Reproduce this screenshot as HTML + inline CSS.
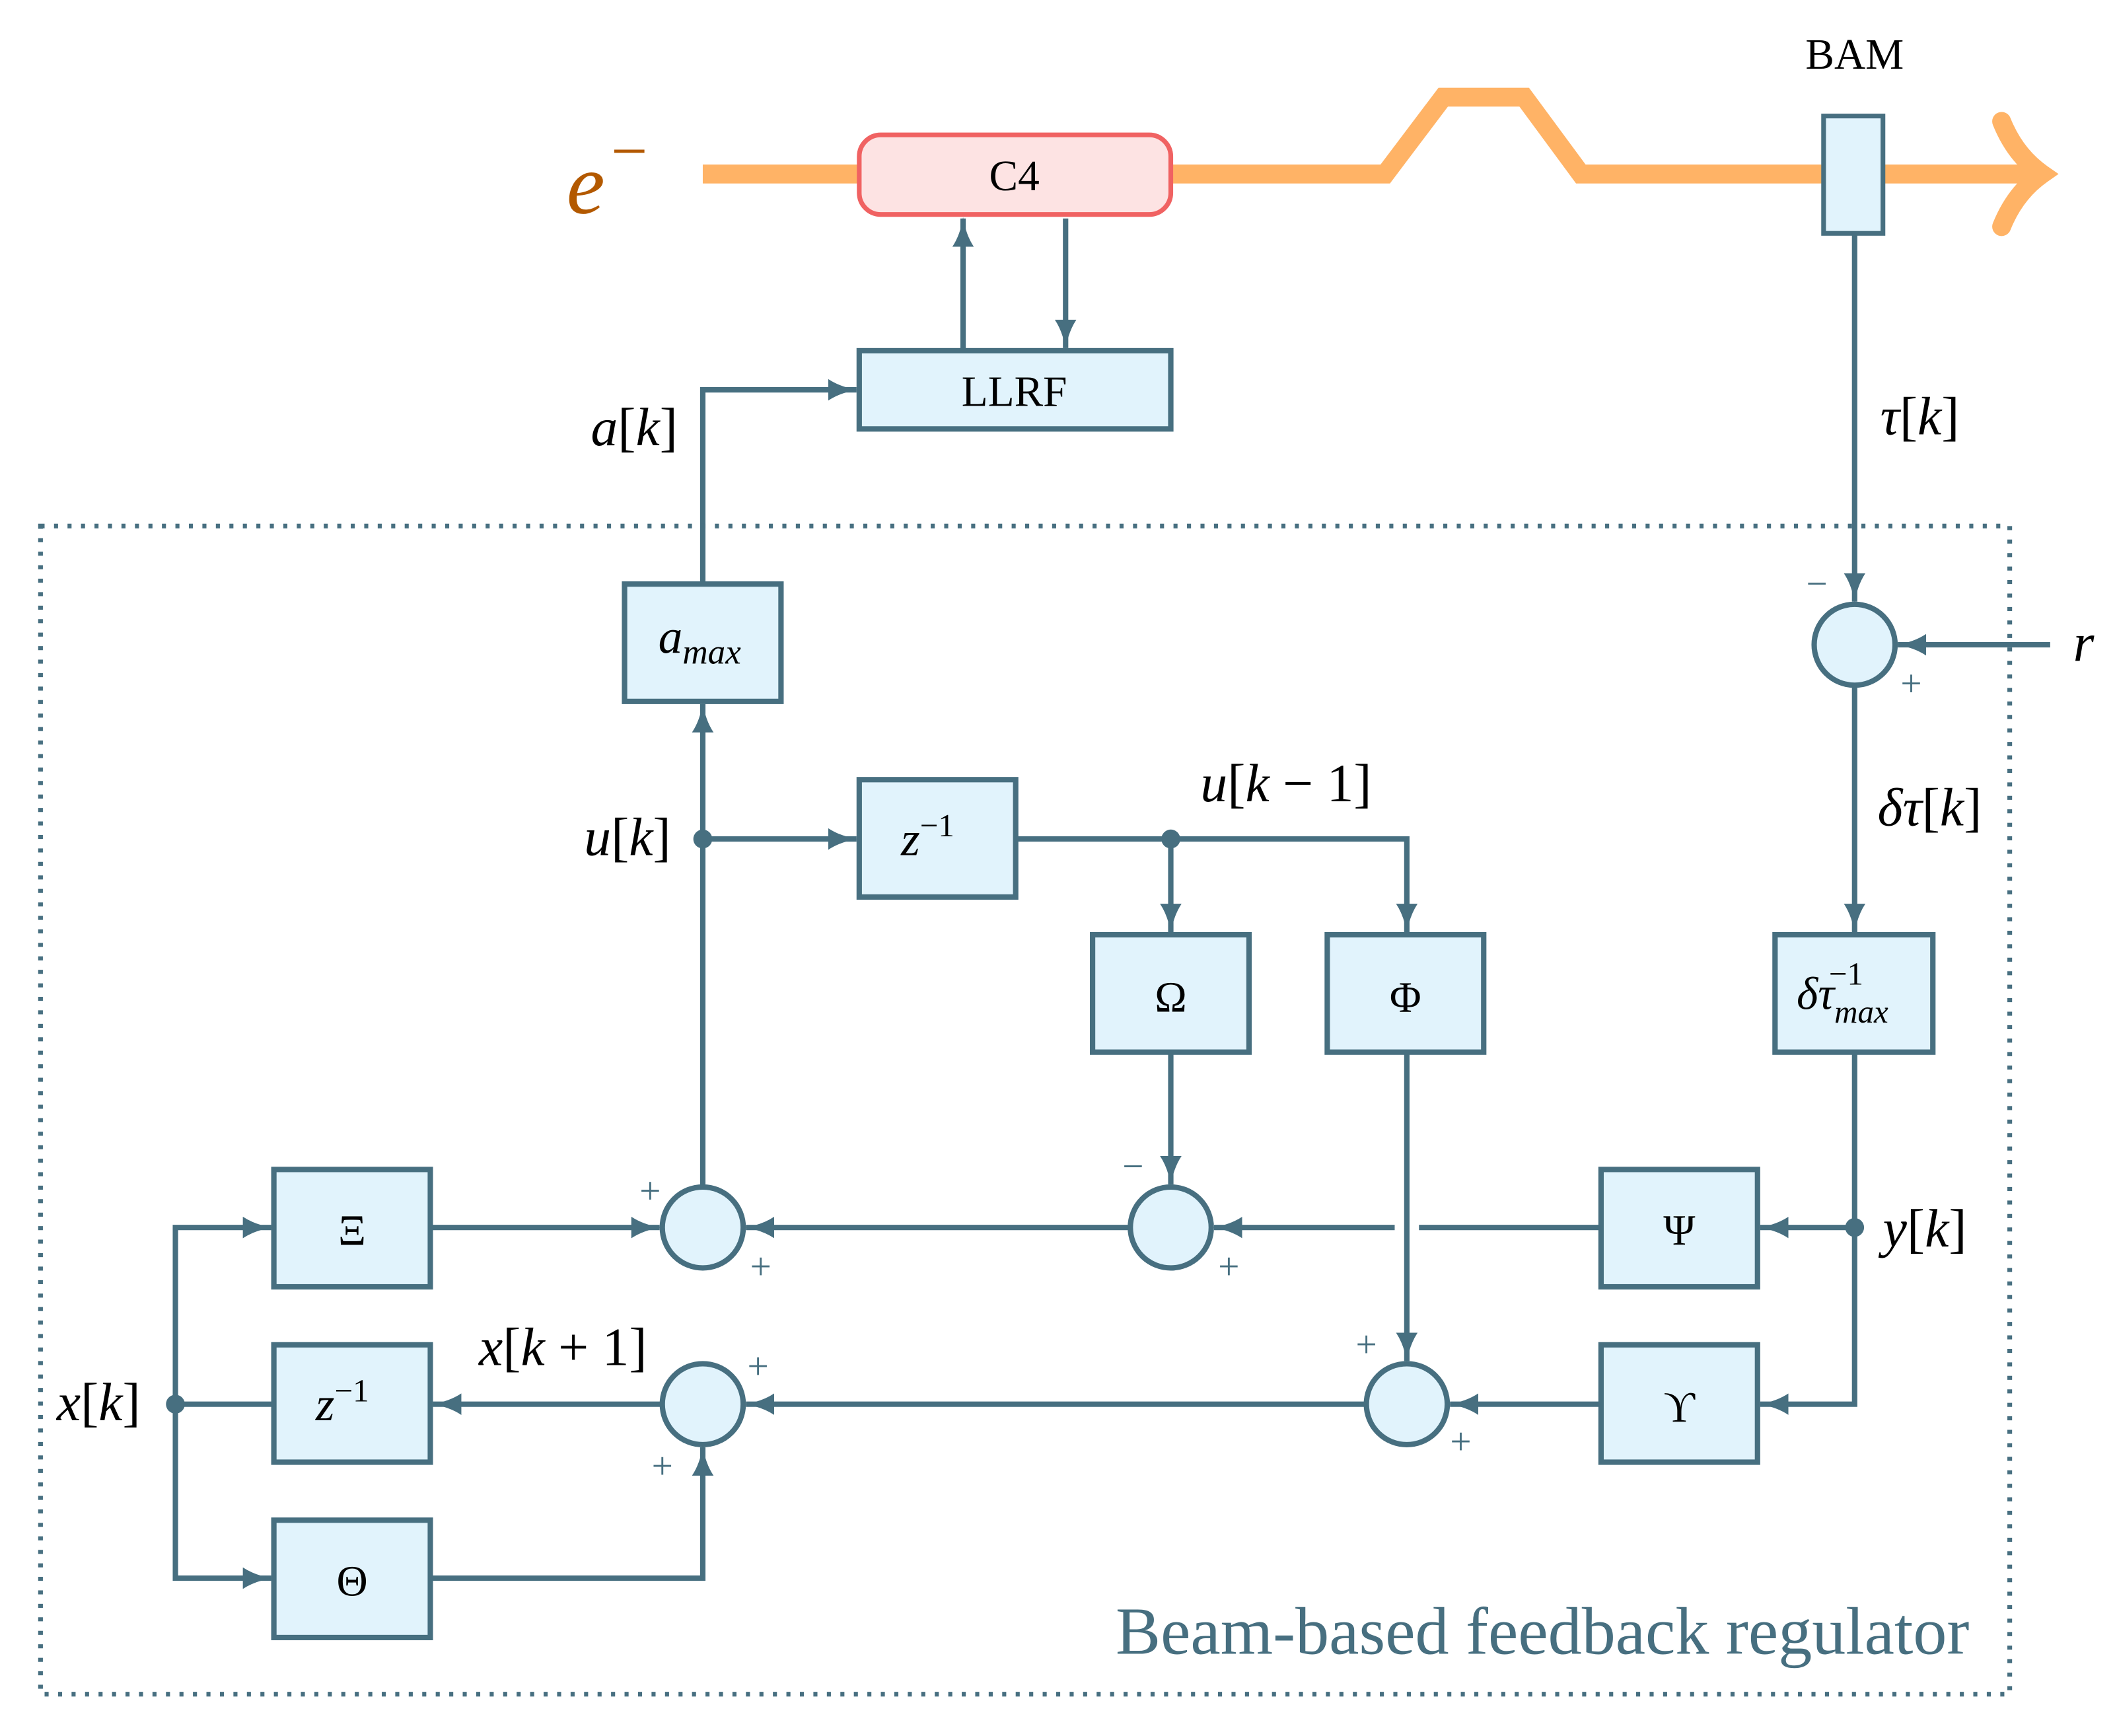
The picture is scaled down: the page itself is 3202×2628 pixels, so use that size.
<!DOCTYPE html>
<html><head><meta charset="utf-8"><style>
html,body{margin:0;padding:0;background:#fff}
svg{display:block}
text{font-family:"Liberation Serif",serif;fill:#000}
.m{font-size:40px}
.m i,.i{font-style:italic}
.b{font-size:32px;text-anchor:middle}
.s{font-size:28px;fill:#476f80;text-anchor:middle}
</style></head><body>
<svg width="3202" height="2628" viewBox="0 0 1568 1287" xmlns="http://www.w3.org/2000/svg">
<defs>
<marker id="a" viewBox="0 0 22 16" refX="21" refY="8" markerWidth="22" markerHeight="16" markerUnits="userSpaceOnUse" orient="auto">
<path d="M0,0 Q9,6 22,8 Q9,10 0,16 Z" fill="#476f80"/></marker>
</defs>
<path d="M521,129 H1027 L1070,72 H1130 L1172,129 H1512" fill="none" stroke="#ffb366" stroke-width="14"/>
<path d="M1484,90 Q1494,115 1514,129 Q1494,143 1484,168" fill="none" stroke="#ffb366" stroke-width="14" stroke-linecap="round"/>
<text x="420" y="158" style="font-style:italic;font-size:64px;fill:#b35900">e</text>
<text x="453" y="128" style="font-size:48px;fill:#b35900">−</text>
<rect x="637" y="100" width="231" height="59" rx="16" fill="#fde3e3" stroke="#f06262" stroke-width="3.5"/>
<text x="752" y="141" class="b">C4</text>
<rect x="1352" y="86" width="44" height="87" fill="#e1f3fc" stroke="#476f80" stroke-width="3.5"/>
<text x="1375" y="51" class="b">BAM</text>
<g fill="none" stroke="#476f80" stroke-width="4">
<rect x="637" y="260" width="231" height="58" fill="#e1f3fc"/>
<line x1="714" y1="260" x2="714" y2="162" marker-end="url(#a)"/>
<line x1="790" y1="162" x2="790" y2="258" marker-end="url(#a)"/>
<polyline points="521,432 521,289 635,289" marker-end="url(#a)"/>
<rect x="30" y="390" width="1460" height="866" stroke-dasharray="3,7" stroke-width="3.5"/>
<rect x="463" y="433" width="116" height="87" fill="#e1f3fc"/>
<line x1="521" y1="880" x2="521" y2="522" marker-end="url(#a)"/>
<rect x="637" y="578" width="116" height="87" fill="#e1f3fc"/>
<line x1="521" y1="622" x2="635" y2="622" marker-end="url(#a)"/>
<polyline points="753,622 1043,622 1043,691" marker-end="url(#a)"/>
<line x1="868" y1="622" x2="868" y2="691" marker-end="url(#a)"/>
<rect x="810" y="693" width="116" height="87" fill="#e1f3fc"/>
<rect x="984" y="693" width="116" height="87" fill="#e1f3fc"/>
<rect x="1316" y="693" width="117" height="87" fill="#e1f3fc"/>
<line x1="1375" y1="173" x2="1375" y2="446" marker-end="url(#a)"/>
<line x1="1520" y1="478" x2="1407" y2="478" marker-end="url(#a)"/>
<circle cx="1375" cy="478" r="30" fill="#e1f3fc"/>
<line x1="1375" y1="508" x2="1375" y2="691" marker-end="url(#a)"/>
<polyline points="1375,780 1375,1041 1305,1041" marker-end="url(#a)"/>
<line x1="1375" y1="910" x2="1305" y2="910" marker-end="url(#a)"/>
<rect x="1187" y="867" width="116" height="87" fill="#e1f3fc"/>
<rect x="1187" y="997" width="116" height="87" fill="#e1f3fc"/>
<line x1="1187" y1="910" x2="1052" y2="910"/>
<line x1="1034" y1="910" x2="900" y2="910" marker-end="url(#a)"/>
<line x1="868" y1="780" x2="868" y2="878" marker-end="url(#a)"/>
<circle cx="868" cy="910" r="30" fill="#e1f3fc"/>
<line x1="838" y1="910" x2="553" y2="910" marker-end="url(#a)"/>
<rect x="203" y="867" width="116" height="87" fill="#e1f3fc"/>
<line x1="319" y1="910" x2="489" y2="910" marker-end="url(#a)"/>
<circle cx="521" cy="910" r="30" fill="#e1f3fc"/>
<line x1="1043" y1="780" x2="1043" y2="1009" marker-end="url(#a)"/>
<line x1="1187" y1="1041" x2="1075" y2="1041" marker-end="url(#a)"/>
<circle cx="1043" cy="1041" r="30" fill="#e1f3fc"/>
<line x1="1013" y1="1041" x2="553" y2="1041" marker-end="url(#a)"/>
<circle cx="521" cy="1041" r="30" fill="#e1f3fc"/>
<line x1="491" y1="1041" x2="321" y2="1041" marker-end="url(#a)"/>
<rect x="203" y="997" width="116" height="87" fill="#e1f3fc"/>
<line x1="203" y1="1041" x2="130" y2="1041"/>
<polyline points="130,910 130,1170 201,1170" marker-end="url(#a)"/>
<line x1="128" y1="910" x2="201" y2="910" marker-end="url(#a)"/>
<rect x="203" y="1127" width="116" height="87" fill="#e1f3fc"/>
<polyline points="319,1170 521,1170 521,1073" marker-end="url(#a)"/>
</g>
<g fill="#476f80"><circle cx="521" cy="622" r="7"/><circle cx="868" cy="622" r="7"/><circle cx="1375" cy="910" r="7"/><circle cx="130" cy="1041" r="7"/></g>
<text x="752" y="301" class="b">LLRF</text>
<text x="488" y="484" class="i" style="font-size:36px">a<tspan dy="8" font-size="26">max</tspan></text>
<text x="668" y="634" class="i" style="font-size:36px">z<tspan dy="-14" font-size="24" font-style="normal">−1</tspan></text>
<text x="234" y="1053" class="i" style="font-size:36px">z<tspan dy="-14" font-size="24" font-style="normal">−1</tspan></text>
<text x="868" y="750" class="b">Ω</text>
<text x="1042" y="750" class="b">Φ</text>
<text x="1332" y="748" class="i" style="font-size:34px">δτ<tspan dy="10" font-size="24">max</tspan><tspan dx="-44" dy="-28" font-size="24" font-style="normal">−1</tspan></text>
<text x="1245" y="923" class="b">Ψ</text>
<text x="1245" y="1054" class="b">ϒ</text>
<text x="261" y="923" class="b">Ξ</text>
<text x="261" y="1183" class="b">Θ</text>
<text x="438" y="330" class="m"><tspan class="i">a</tspan>[<tspan class="i">k</tspan>]</text>
<text x="433" y="634" class="m"><tspan class="i">u</tspan>[<tspan class="i">k</tspan>]</text>
<text x="890" y="594" class="m"><tspan class="i">u</tspan>[<tspan class="i">k</tspan> − 1]</text>
<text x="1394" y="322" class="m"><tspan class="i">τ</tspan>[<tspan class="i">k</tspan>]</text>
<text x="1392" y="612" class="m"><tspan class="i">δτ</tspan>[<tspan class="i">k</tspan>]</text>
<text x="1396" y="924" class="m"><tspan class="i">y</tspan>[<tspan class="i">k</tspan>]</text>
<text x="42" y="1053" class="m"><tspan class="i">x</tspan>[<tspan class="i">k</tspan>]</text>
<text x="355" y="1012" class="m"><tspan class="i">x</tspan>[<tspan class="i">k</tspan> + 1]</text>
<text x="1537" y="490" class="m"><tspan class="i">r</tspan></text>
<text x="1460" y="1226" style="font-size:50px;fill:#476f80;text-anchor:end">Beam-based feedback regulator</text>
<g>
<text x="1347" y="442" class="s">−</text><text x="1417" y="516" class="s">+</text>
<text x="840" y="874" class="s">−</text><text x="911" y="948" class="s">+</text>
<text x="482" y="892" class="s">+</text><text x="564" y="948" class="s">+</text>
<text x="1013" y="1006" class="s">+</text><text x="1083" y="1078" class="s">+</text>
<text x="562" y="1022" class="s">+</text><text x="491" y="1096" class="s">+</text>
</g>
</svg>
</body></html>
